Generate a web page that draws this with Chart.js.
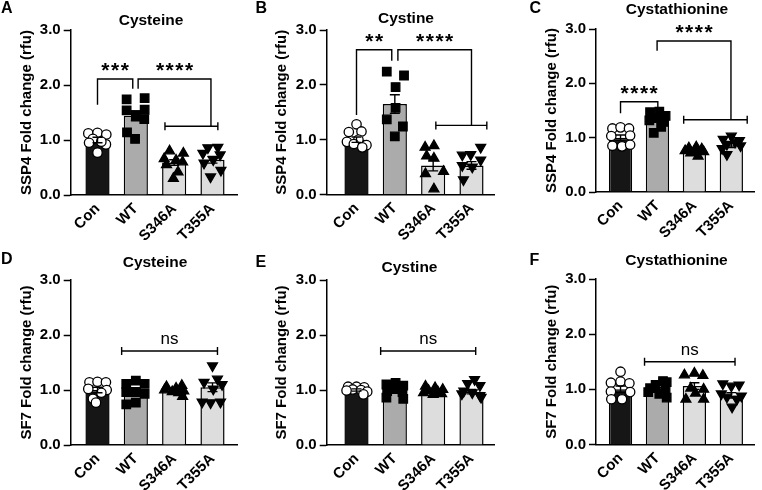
<!DOCTYPE html>
<html><head><meta charset="utf-8">
<script src="https://cdn.jsdelivr.net/npm/chart.js@4.4.1/dist/chart.umd.min.js"></script>
<style>
html,body{margin:0;padding:0;background:#fff;}
#wrap{position:relative;width:762px;height:490px;overflow:hidden;background:#fff;font-family:"Liberation Sans",Arial,Helvetica,sans-serif;}
canvas.pc{position:absolute;}
.txt{position:absolute;white-space:nowrap;color:#000;font-weight:bold;}
</style></head><body><div id="wrap"></div>
<script>
// ---------------- data ----------------
const categories = ['Con', 'WT', 'S346A', 'T355A'];
const yTickValues = [0, 1, 2, 3];
const panelLetters = ['A', 'B', 'C', 'D', 'E', 'F'];
const panelTitles = ['Cysteine', 'Cystine', 'Cystathionine', 'Cysteine', 'Cystine', 'Cystathionine'];
const yAxisTitles = ['SSP4 Fold change (rfu)', 'SSP4 Fold change (rfu)', 'SSP4 Fold change (rfu)',
                     'SF7 Fold change (rfu)', 'SF7 Fold change (rfu)', 'SF7 Fold change (rfu)'];

// bar heights (mean) and SEM, order: Con, WT, S346A, T355A
const meansA = [1.00, 1.44, 0.59, 0.64];
const semA   = [0.05, 0.09, 0.05, 0.06];
const meansB = [1.00, 1.65, 0.53, 0.53];
const semB   = [0.05, 0.17, 0.10, 0.07];
const meansC = [1.00, 1.36, 0.75, 0.86];
const semC   = [0.05, 0.05, 0.02, 0.04];
const meansD = [1.00, 0.98, 0.99, 1.05];
const semD   = [0.05, 0.06, 0.02, 0.08];
const meansE = [1.00, 0.98, 0.98, 0.97];
const semE   = [0.02, 0.04, 0.02, 0.04];
const meansF = [1.00, 1.00, 1.06, 0.89];
const semF   = [0.06, 0.03, 0.06, 0.05];

// individual replicate values per group
const valuesA = [
  [1.12, 1.13, 1.10, 1.02, 0.95, 0.92, 0.97, 0.77],
  [1.74, 1.76, 1.54, 1.55, 1.45, 1.38, 1.14, 1.02],
  [0.80, 0.76, 0.66, 0.63, 0.60, 0.55, 0.42, 0.30],
  [0.86, 0.87, 0.76, 0.73, 0.64, 0.58, 0.45, 0.33]
];
const jitterA = [
  [-0.24, 0.00, 0.23, -0.12, -0.22, 0.22, 0.10, 0.00],
  [-0.24, 0.23, -0.24, 0.23, 0.00, 0.22, -0.23, -0.02],
  [-0.12, 0.24, -0.26, 0.05, 0.22, -0.20, 0.10, -0.02],
  [-0.12, 0.14, -0.25, 0.20, 0.02, -0.22, 0.22, -0.05]
];
const valuesB = [
  [1.28, 1.14, 1.15, 1.00, 0.96, 0.92, 0.90, 0.86],
  [2.24, 2.17, 1.96, 1.58, 1.37, 1.24, 1.06],
  [0.89, 0.86, 0.70, 0.66, 0.42, 0.38, 0.10],
  [0.86, 0.73, 0.72, 0.63, 0.53, 0.50, 0.27]
];
const jitterB = [
  [0.00, -0.20, 0.13, 0.05, -0.25, -0.07, 0.26, 0.15],
  [-0.21, 0.24, 0.02, 0.02, -0.21, 0.21, 0.00],
  [0.02, -0.21, -0.17, 0.02, 0.27, -0.20, 0.02],
  [0.24, -0.02, -0.24, 0.24, -0.24, 0.02, -0.21]
];
const valuesC = [
  [1.17, 1.19, 1.17, 1.03, 1.04, 0.85, 0.84, 0.87],
  [1.47, 1.48, 1.40, 1.32, 1.36, 1.29, 1.20, 1.09],
  [0.83, 0.81, 0.79, 0.76, 0.75, 0.74, 0.72, 0.66],
  [1.03, 0.97, 0.95, 0.92, 0.88, 0.85, 0.80, 0.69]
];
const jitterC = [
  [-0.22, 0.00, 0.23, -0.25, 0.26, -0.22, 0.04, 0.26],
  [-0.20, 0.05, 0.22, -0.22, 0.00, 0.18, 0.10, -0.10],
  [0.05, -0.15, 0.20, -0.25, 0.00, 0.25, -0.10, 0.10],
  [0.00, -0.22, 0.22, 0.10, -0.12, 0.25, -0.25, -0.12]
];
const valuesD = [
  [1.14, 1.15, 1.14, 1.02, 1.00, 0.95, 0.84, 0.77],
  [1.17, 1.11, 1.11, 0.96, 0.96, 0.93, 0.74, 0.77],
  [1.08, 1.06, 1.03, 1.00, 0.98, 0.97, 0.95, 0.88],
  [1.44, 1.20, 1.14, 1.10, 1.02, 0.78, 0.77, 0.78]
];
const jitterD = [
  [-0.21, 0.00, 0.22, -0.24, 0.24, 0.10, -0.12, -0.04],
  [0.00, -0.25, 0.23, -0.25, 0.00, 0.23, -0.25, 0.00],
  [0.20, -0.20, 0.05, -0.25, 0.25, -0.05, 0.12, 0.22],
  [0.00, 0.13, -0.22, 0.25, 0.02, -0.27, -0.05, 0.21]
];
const valuesE = [
  [1.06, 1.06, 1.05, 1.01, 1.00, 0.99, 0.97, 0.92],
  [1.13, 1.10, 1.08, 1.02, 0.98, 0.96, 0.86, 0.84],
  [1.07, 1.04, 1.01, 0.99, 0.97, 0.95, 0.93, 0.92],
  [1.19, 1.12, 1.08, 0.98, 0.95, 0.93, 0.90, 0.87]
];
const jitterE = [
  [-0.22, 0.00, 0.20, -0.10, 0.12, -0.26, 0.28, 0.18],
  [0.02, -0.22, 0.22, 0.00, -0.20, 0.20, -0.22, 0.22],
  [-0.20, 0.05, 0.25, -0.12, 0.12, -0.25, 0.22, 0.00],
  [0.08, -0.10, 0.22, -0.20, 0.02, -0.25, 0.22, 0.25]
];
const valuesF = [
  [1.32, 1.12, 1.14, 1.11, 0.96, 0.95, 0.82, 0.82],
  [1.15, 1.13, 1.08, 1.02, 0.98, 0.95, 0.92, 0.85],
  [1.26, 1.29, 1.25, 1.02, 1.00, 0.82, 0.82, 0.93],
  [1.10, 1.06, 1.08, 0.92, 0.88, 0.86, 0.82, 0.68]
];
const jitterF = [
  [0.00, -0.26, 0.00, 0.24, -0.26, 0.26, -0.25, 0.04],
  [0.15, 0.25, -0.05, -0.20, 0.22, -0.25, 0.05, 0.25],
  [-0.27, 0.00, 0.23, -0.10, 0.25, -0.23, 0.25, 0.03],
  [-0.23, 0.00, 0.21, -0.27, 0.27, -0.12, 0.15, 0.02]
];

// significance brackets: [xLeft, xRight, yLeftEnd, yRightEnd, yTop, label] (data units)
const bracketsA = [[0, 0.92, 1.64, 1.93, 2.11, '***'], [1.06, 2.96, 1.93, 1.25, 2.11, '****']];
const bracketsB = [[0, 0.92, 1.45, 2.44, 2.64, '**'], [1.08, 3.00, 2.44, 1.26, 2.64, '****']];
const bracketsC = [[0, 1.01, 1.45, 1.56, 1.66, '****'], [0.99, 2.99, 2.60, 1.33, 2.78, '****']];
const bracketsD = [], bracketsE = [], bracketsF = [];
// group ranges: [xStart, xEnd, y, label]
const rangesA = [[1.76, 3.14, 1.25, '']];
const rangesB = [[2.07, 3.40, 1.26, '']];
const rangesC = [[1.71, 3.43, 1.33, '']];
const rangesD = [[0.63, 3.13, 1.71, 'ns']];
const rangesE = [[0.63, 3.11, 1.71, 'ns']];
const rangesF = [[0.65, 3.10, 1.50, 'ns']];

// ---------------- layout & style ----------------
const FONT = '"Liberation Sans", Arial, Helvetica, sans-serif';
const geom = [
  {l: 0,   t: 0,   axisL: 70.7,  axisR: 237,   top: 30,  bottom: 195,   c0: 97.5,  step: 38.33, titleX: 26.5,
   letter: [1, 8],     title: [151, 19.5]},
  {l: 254, t: 0,   axisL: 326.7, axisR: 494.7, top: 30,  bottom: 194.5, c0: 356.5, step: 38.33, titleX: 282,
   letter: [255.5, 8.3], title: [406, 17.5]},
  {l: 508, t: 0,   axisL: 596,   axisR: 761,   top: 29,  bottom: 192,   c0: 621.5, step: 38.4,  titleX: 551.5,
   letter: [529.5, 8.3], title: [677, 8.5]},
  {l: 0,   t: 245, axisL: 70.7,  axisR: 237,   top: 280, bottom: 445,   c0: 97.5,  step: 38.33, titleX: 26.5,
   letter: [1, 259.2], title: [155, 261.7]},
  {l: 254, t: 245, axisL: 326.7, axisR: 494.7, top: 280, bottom: 445,   c0: 356.5, step: 38.33, titleX: 282,
   letter: [255.5, 261.7], title: [409.5, 267]},
  {l: 508, t: 245, axisL: 596,   axisR: 761,   top: 279, bottom: 444.5, c0: 621.5, step: 38.4,  titleX: 551.5,
   letter: [529.5, 260], title: [676.5, 259.3]}
];
const barFill = ['#161616', '#ababab', '#dddddd', '#dddddd'];
const ptStyle = ['circle', 'rect', 'triangle', 'triangle'];
const ptRot = [0, 0, 0, 180];
const ptFill = ['#ffffff', '#000000', '#000000', '#000000'];
const ptRadius = [4.7, 6, 5.7, 5.7];

const panels = [
  {values: valuesA, jitter: jitterA, means: meansA, sem: semA, brackets: bracketsA, ranges: rangesA},
  {values: valuesB, jitter: jitterB, means: meansB, sem: semB, brackets: bracketsB, ranges: rangesB},
  {values: valuesC, jitter: jitterC, means: meansC, sem: semC, brackets: bracketsC, ranges: rangesC},
  {values: valuesD, jitter: jitterD, means: meansD, sem: semD, brackets: bracketsD, ranges: rangesD},
  {values: valuesE, jitter: jitterE, means: meansE, sem: semE, brackets: bracketsE, ranges: rangesE},
  {values: valuesF, jitter: jitterF, means: meansF, sem: semF, brackets: bracketsF, ranges: rangesF}
];

Chart.defaults.font.family = FONT;
Chart.defaults.color = '#000';

const annotPlugin = {
  id: 'annot',
  afterDatasetsDraw(chart, args, o) {
    const ctx = chart.ctx, xs = chart.scales.x, ys = chart.scales.y;
    const px = v => xs.getPixelForValue(v), py = v => ys.getPixelForValue(v);
    ctx.save();
    ctx.strokeStyle = '#000';
    ctx.lineWidth = 1.4;
    // SEM error bars
    o.means.forEach((m, i) => {
      const cx = px(i), y1 = py(m + o.sem[i]), y0 = py(m - o.sem[i]);
      ctx.beginPath();
      ctx.moveTo(cx, y1); ctx.lineTo(cx, y0);
      ctx.moveTo(cx - 5, y1); ctx.lineTo(cx + 5, y1);
      ctx.moveTo(cx - 5, y0); ctx.lineTo(cx + 5, y0);
      ctx.stroke();
    });
    // brackets
    ctx.fillStyle = '#000';
    ctx.textAlign = 'center';
    ctx.textBaseline = 'alphabetic';
    o.brackets.forEach(b => {
      const [xl, xr, yl, yr, yt, lab] = b;
      ctx.beginPath();
      ctx.moveTo(px(xl), py(yl)); ctx.lineTo(px(xl), py(yt));
      ctx.lineTo(px(xr), py(yt)); ctx.lineTo(px(xr), py(yr));
      ctx.stroke();
      if (lab) {
        ctx.font = 'bold 21px ' + FONT;
        try { ctx.letterSpacing = '1.5px'; } catch (e) {}
        ctx.fillText(lab, (px(xl) + px(xr)) / 2 + 0.75, py(yt) - 2);
        try { ctx.letterSpacing = '0px'; } catch (e) {}
      }
    });
    o.ranges.forEach(r => {
      const [xa, xb, yv, lab] = r;
      const y = py(yv), a = px(xa), b = px(xb);
      ctx.beginPath();
      ctx.moveTo(a, y); ctx.lineTo(b, y);
      ctx.moveTo(a, y - 4); ctx.lineTo(a, y + 4);
      ctx.moveTo(b, y - 4); ctx.lineTo(b, y + 4);
      ctx.stroke();
      if (lab) {
        ctx.font = '17px ' + FONT;
        ctx.fillText(lab, (a + b) / 2, y - 7);
      }
    });
    ctx.restore();
  }
};

const wrap = document.getElementById('wrap');

function addText(str, x, capCenterY, size, align) {
  const d = document.createElement('div');
  d.className = 'txt';
  d.textContent = str;
  d.style.fontSize = size + 'px';
  d.style.lineHeight = size + 'px';
  d.style.top = (capCenterY - 0.4885 * size) + 'px';
  if (align === 'center') {
    d.style.left = (x - 150) + 'px';
    d.style.width = '300px';
    d.style.textAlign = 'center';
  } else {
    d.style.left = x + 'px';
  }
  wrap.appendChild(d);
}

panels.forEach((p, k) => {
  const g = geom[k];
  const W = 254, H = 245;
  const cv = document.createElement('canvas');
  cv.className = 'pc';
  cv.width = W; cv.height = H;
  cv.style.left = g.l + 'px'; cv.style.top = g.t + 'px';
  cv.style.width = W + 'px'; cv.style.height = H + 'px';
  wrap.appendChild(cv);

  const padLeft = g.titleX - g.l - 9;
  const padTop = g.top - g.t;
  const padRight = g.l + W - g.axisR;
  const yWidth = g.axisL - g.l - padLeft;
  const xHeight = g.t + H - g.bottom;

  const datasets = [{
    type: 'bar',
    order: 2,
    data: p.means.map((m, i) => ({x: i, y: m})),
    backgroundColor: barFill,
    borderColor: '#000',
    borderWidth: 1.5,
    barPercentage: 0.63,
    categoryPercentage: 1.0
  }];
  p.values.forEach((vals, gi) => {
    datasets.push({
      type: 'scatter',
      order: 1,
      data: vals.map((v, j) => ({x: gi + p.jitter[gi][j], y: v})),
      pointStyle: ptStyle[gi],
      rotation: ptRot[gi],
      pointRadius: ptRadius[gi],
      backgroundColor: ptFill[gi],
      borderColor: '#000',
      borderWidth: 1.3,
      showLine: false
    });
  });

  new Chart(cv, {
    type: 'scatter',
    data: {datasets},
    options: {
      responsive: false,
      maintainAspectRatio: false,
      animation: false,
      events: [],
      devicePixelRatio: 1,
      layout: {padding: {left: padLeft, top: padTop, right: padRight, bottom: 0}},
      plugins: {
        legend: {display: false},
        tooltip: {enabled: false},
        title: {display: false},
        annot: {means: p.means, sem: p.sem, brackets: p.brackets, ranges: p.ranges}
      },
      scales: {
        x: {
          type: 'linear',
          offset: false,
          min: (g.axisL - g.c0) / g.step,
          max: (g.axisR - g.c0) / g.step,
          afterBuildTicks: s => { s.ticks = categories.map((c, i) => ({value: i})); },
          afterFit: s => { s.height = xHeight; },
          grid: {display: true, drawOnChartArea: false, drawTicks: false, offset: false},
          border: {display: true, color: '#000', width: 1.5},
          ticks: {
            autoSkip: false,
            minRotation: 45,
            maxRotation: 45,
            padding: 5,
            font: {size: 15, weight: 'bold', family: FONT},
            color: '#000',
            callback: v => categories[Math.round(v)]
          }
        },
        y: {
          type: 'linear',
          min: yTickValues[0],
          max: yTickValues[yTickValues.length - 1],
          afterBuildTicks: s => { s.ticks = yTickValues.map(v => ({value: v})); },
          afterFit: s => { s.width = yWidth; },
          grid: {display: true, drawOnChartArea: false, drawTicks: true, tickLength: 7, tickColor: '#000', tickWidth: 1.5},
          border: {display: true, color: '#000', width: 1.5},
          ticks: {
            padding: 3,
            font: {size: 15, weight: 'bold', family: FONT},
            color: '#000',
            callback: v => Number(v).toFixed(1)
          },
          title: {
            display: true,
            text: yAxisTitles[k],
            font: {size: 15, weight: 'bold', family: FONT},
            color: '#000',
            padding: 0
          }
        }
      }
    },
    plugins: [annotPlugin]
  });

  addText(panelLetters[k], g.letter[0], g.letter[1], 16, 'left');
  addText(panelTitles[k], g.title[0], g.title[1], 15.5, 'center');
});
</script>
</body></html>
